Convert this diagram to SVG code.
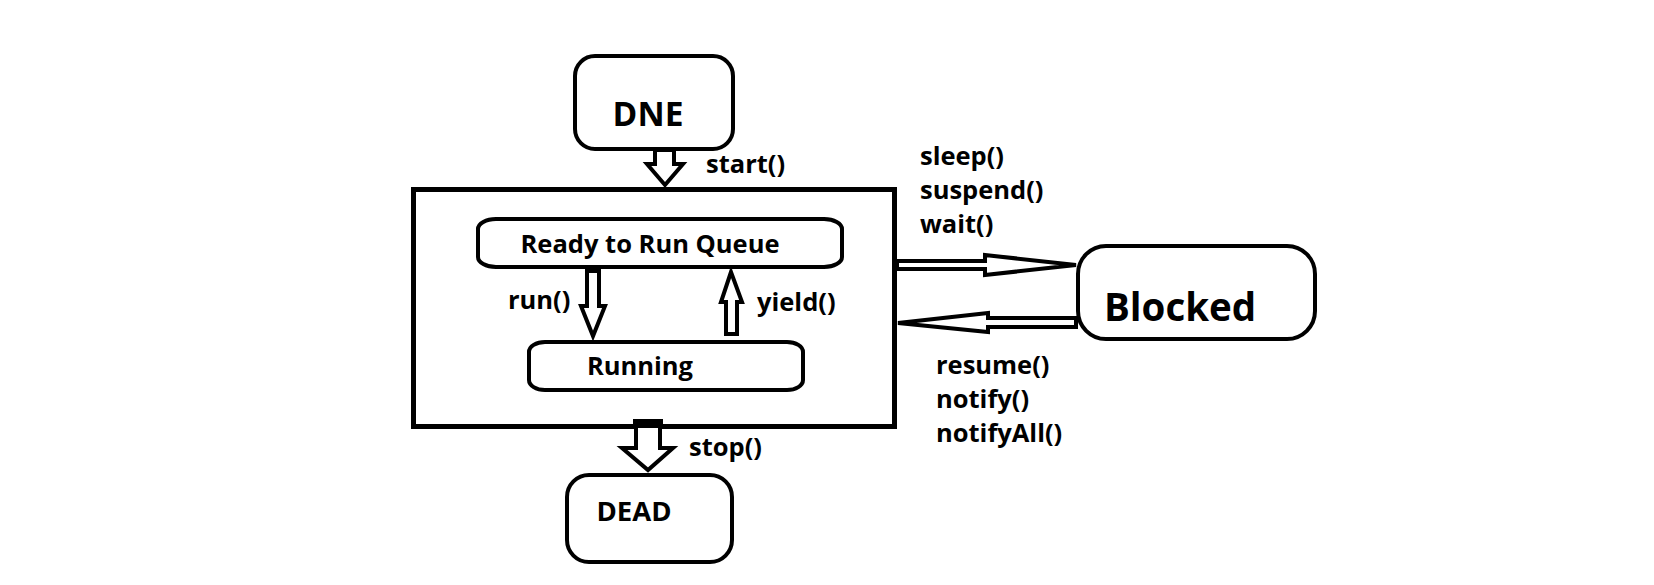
<svg xmlns="http://www.w3.org/2000/svg" width="1654" height="585" viewBox="0 0 1654 585">
<style>
.box{fill:#fff;stroke:#000;stroke-width:4}
.arr{fill:#fff;stroke:#000;stroke-width:4;stroke-linejoin:miter}
text{font-family:"Open Sans","Liberation Sans",sans-serif;font-weight:bold;fill:#000}
.lbl{font-size:25.5px}
</style>
<rect x="0" y="0" width="1654" height="585" fill="#fff"/>
<g id="container">
<rect x="413.5" y="189.5" width="481" height="237" fill="none" stroke="#000" stroke-width="5"/>
</g>
<g id="dne">
<rect class="box" x="575" y="56" width="158" height="93" rx="20"/>
<text x="648" y="126" font-size="33.5" text-anchor="middle">DNE</text>
</g>
<g id="ready">
<rect class="box" x="478" y="219" width="364" height="48" rx="18" ry="10"/>
<text x="650" y="253" font-size="25.5" text-anchor="middle">Ready to Run Queue</text>
</g>
<g id="running">
<rect class="box" x="529" y="342" width="274" height="48" rx="16" ry="10"/>
<text x="640" y="375" font-size="25.5" text-anchor="middle">Running</text>
</g>
<g id="blocked">
<rect class="box" x="1078" y="246" width="237" height="93" rx="28"/>
<text x="1104" y="321" font-size="38.5">Blocked</text>
</g>
<g id="dead">
<rect class="box" x="567" y="475" width="165" height="87" rx="22"/>
<text x="634" y="521" font-size="27.5" text-anchor="middle">DEAD</text>
</g>
<g id="connectors">
<polygon class="arr" points="655,150 655,164 647,164 665,185 683,164 674,164 674,150"/>
<polygon class="arr" points="587,271 587,306 581,306 593,336 605,306 599,306 599,271"/>
<polygon class="arr" points="731,272 721,302 726,302 726,334 737,334 737,302 742,302"/>
<polygon class="arr" points="897,261 985,261 985,255 1076,265 985,275 985,269 897,269"/>
<polygon class="arr" points="1076,318 988,318 988,313 898,323 988,332 988,327 1076,327"/>
<polygon class="arr" points="636,424 636,448 622,448 648,470 673,448 660,448 660,424"/>
<rect x="633" y="419" width="30" height="9" fill="#000"/>
<text class="lbl" x="706" y="173">start()</text>
<text class="lbl" x="508" y="309">run()</text>
<text class="lbl" x="757" y="311">yield()</text>
<text class="lbl" x="689" y="456">stop()</text>
<text class="lbl" x="920" y="165">sleep()</text>
<text class="lbl" x="920" y="199">suspend()</text>
<text class="lbl" x="920" y="233">wait()</text>
<text class="lbl" x="936" y="374">resume()</text>
<text class="lbl" x="936" y="408">notify()</text>
<text class="lbl" x="936" y="442">notifyAll()</text>
</g>
</svg>
